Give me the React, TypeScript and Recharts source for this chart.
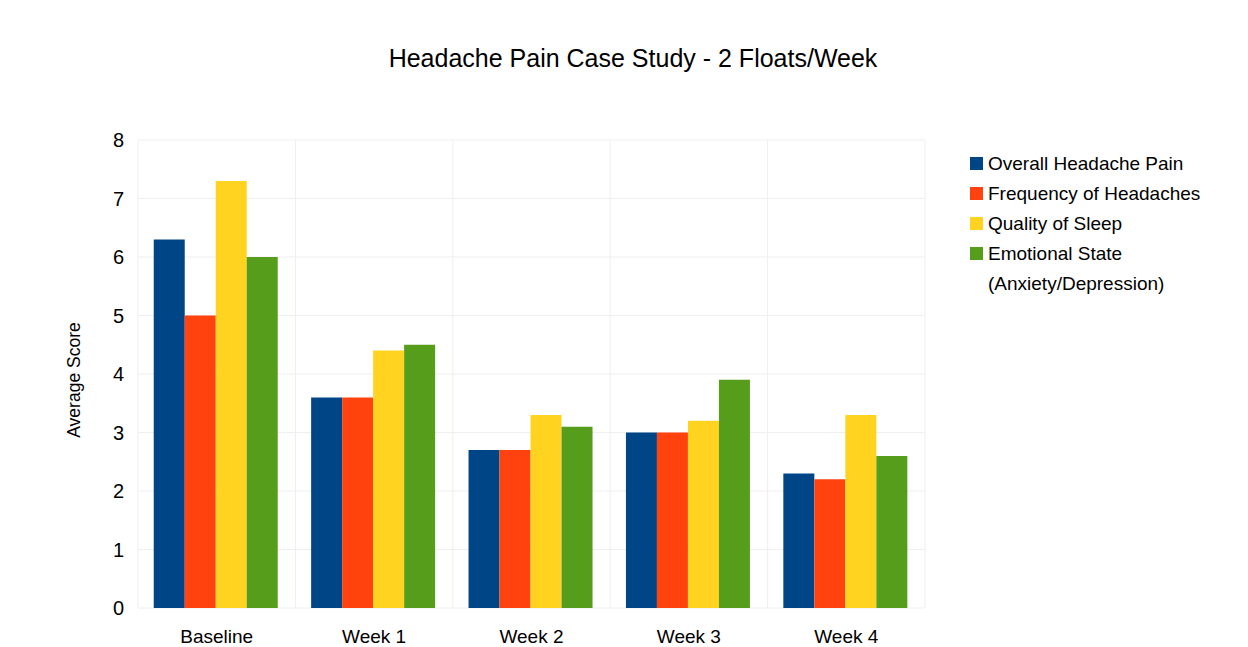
import { Bar, BarChart, CartesianGrid, Legend, XAxis, YAxis } from "recharts";

const categories = ["Baseline", "Week 1", "Week 2", "Week 3", "Week 4"];
const overallPain = [6.3, 3.6, 2.7, 3.0, 2.3];
const frequency = [5.0, 3.6, 2.7, 3.0, 2.2];
const sleepQuality = [7.3, 4.4, 3.3, 3.2, 3.3];
const emotionalState = [6.0, 4.5, 3.1, 3.9, 2.6];
const yTicks = [0, 1, 2, 3, 4, 5, 6, 7, 8];

const series = [
  { key: "pain", name: "Overall Headache Pain", color: "#004586", values: overallPain },
  { key: "freq", name: "Frequency of Headaches", color: "#ff420e", values: frequency },
  { key: "sleep", name: "Quality of Sleep", color: "#ffd320", values: sleepQuality },
  { key: "mood", name: "Emotional State (Anxiety/Depression)", color: "#579d1c", values: emotionalState },
];

const data = categories.map((c, i) => {
  const row: Record<string, string | number> = { name: c };
  series.forEach((s) => (row[s.key] = s.values[i]));
  return row;
});

const FONT = '"Liberation Sans", Arial, Helvetica, sans-serif';

// grid lines sit on category boundaries, not centres
const boundaryLines = ({ offset }: any) =>
  categories.map((_, i) => offset.left + (i * offset.width) / categories.length).concat(offset.left + offset.width);

function LegendList({ payload }: any) {
  // keep the series order, recharts sorts legend items by name otherwise
  const items = [...(payload || [])].sort(
    (a: any, b: any) => series.findIndex((s) => s.name === a.value) - series.findIndex((s) => s.name === b.value)
  );
  return (
    <div style={{ fontFamily: FONT, fontSize: 19, lineHeight: "30px", color: "#000" }}>
      {items.map((p: any) => (
        <div key={p.value} style={{ display: "flex", alignItems: "flex-start" }}>
          <span style={{ width: 13, height: 13, marginTop: 8, marginRight: 5, background: p.color, flex: "none" }} />
          <span style={{ width: 230 }}>{p.value}</span>
        </div>
      ))}
    </div>
  );
}

function AxisTitle() {
  return (
    <text x={80} y={380} transform="rotate(-90 80 380)" textAnchor="middle" fontFamily={FONT} fontSize={17.5} fill="#000">
      Average Score
    </text>
  );
}

export default function App() {
  return (
    <div style={{ position: "absolute", left: 0, top: 0, width: 1248, height: 647, background: "#fff", overflow: "hidden" }}>
      <div
        style={{
          position: "absolute",
          left: 0,
          width: 1266,
          top: 44,
          textAlign: "center",
          fontFamily: FONT,
          fontSize: 25,
          color: "#000",
        }}
      >
        Headache Pain Case Study - 2 Floats/Week
      </div>
      <BarChart
        width={1248}
        height={647}
        data={data}
        margin={{ top: 140, right: 323, bottom: 0, left: 0 }}
        barCategoryGap="10%"
        barGap={0}
      >
        <CartesianGrid stroke="#efefef" verticalCoordinatesGenerator={boundaryLines} />
        <XAxis
          dataKey="name"
          height={39}
          axisLine={false}
          tickLine={false}
          tickSize={0}
          tickMargin={22}
          tick={{ fontFamily: FONT, fontSize: 19, fill: "#000" }}
        />
        <YAxis
          width={138}
          domain={[0, 8]}
          ticks={yTicks}
          axisLine={false}
          tickLine={false}
          tickSize={0}
          tickMargin={14}
          tick={{ fontFamily: FONT, fontSize: 20, fill: "#000" }}
          label={<AxisTitle />}
        />
        <Legend
          layout="vertical"
          align="center"
          verticalAlign="middle"
          itemSorter={null as any}
          wrapperStyle={{ left: 970, top: 149, width: 260 }}
          content={<LegendList />}
        />
        {series.map((s) => (
          <Bar key={s.key} dataKey={s.key} name={s.name} fill={s.color} isAnimationActive={false} />
        ))}
      </BarChart>
    </div>
  );
}
